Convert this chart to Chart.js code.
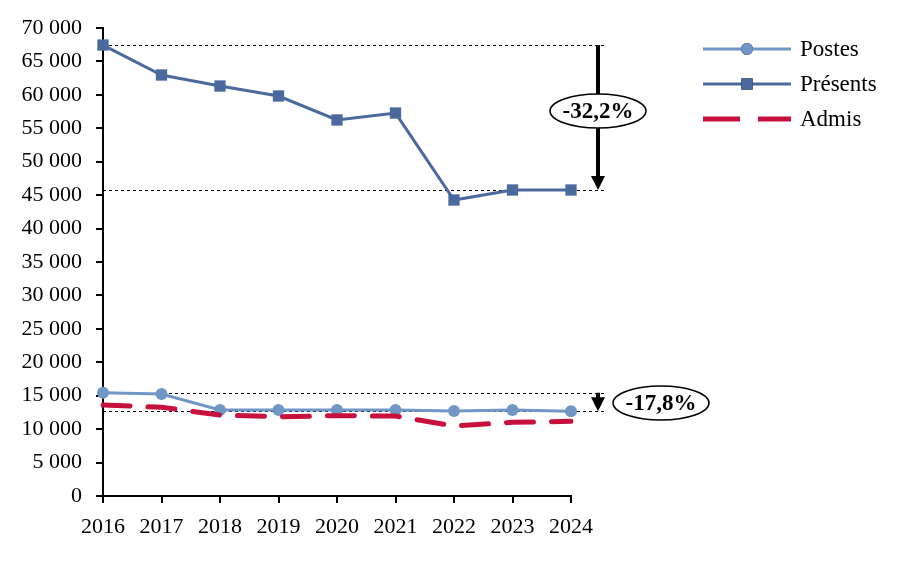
<!DOCTYPE html>
<html>
<head>
<meta charset="utf-8">
<script src="https://cdn.jsdelivr.net/npm/chart.js@4.4.1/dist/chart.umd.min.js"></script>
<style>
  html, body { margin: 0; padding: 0; background: #fff; }
  #wrap { width: 900px; height: 563px; }
</style>
</head>
<body>
<div id="wrap"><canvas id="chart"></canvas></div>
<script>
// data
const years = ['2016', '2017', '2018', '2019', '2020', '2021', '2022', '2023', '2024']
const postes = [15450, 15250, 12860, 12860, 12860, 12860, 12710, 12860, 12680]
const presents = [67450, 62970, 61320, 59830, 56240, 57280, 44270, 45770, 45770]
const admis = [13610, 13260, 12110, 11860, 12010, 11960, 10470, 11020, 11170]
const seriesNames = ['Postes', 'Présents', 'Admis']
const yMax = 70000
const yStep = 5000
const changeLabels = ['-32,2%', '-17,8%']

const FONT = '"Liberation Serif", "Times New Roman", serif'

// dashed guides, arrows and the percentage ellipses
const changePlugin = {
  id: 'changes',
  beforeDatasetsDraw(chart) {
    const ctx = chart.ctx
    const y = chart.scales.y
    const area = chart.chartArea
    const endX = area.right + 34
    const vals = [presents[0], presents[presents.length - 1], postes[0], postes[postes.length - 1]]
    ctx.save()
    ctx.strokeStyle = '#000'
    ctx.lineWidth = 1
    ctx.setLineDash([3, 3])
    vals.forEach(v => {
      const py = Math.round(y.getPixelForValue(v)) + 0.5
      ctx.beginPath()
      ctx.moveTo(area.left, py)
      ctx.lineTo(endX, py)
      ctx.stroke()
    })
    ctx.restore()
  },
  afterDraw(chart) {
    const ctx = chart.ctx
    const y = chart.scales.y
    const area = chart.chartArea
    const ax = area.right + 27

    function arrow(from, to) {
      const y1 = y.getPixelForValue(from)
      const y2 = y.getPixelForValue(to)
      const head = 14
      ctx.save()
      ctx.strokeStyle = '#000'
      ctx.fillStyle = '#000'
      ctx.lineWidth = 4
      ctx.beginPath()
      ctx.moveTo(ax, y1)
      ctx.lineTo(ax, y2 - head + 1)
      ctx.stroke()
      ctx.beginPath()
      ctx.moveTo(ax - 7, y2 - head)
      ctx.lineTo(ax + 7, y2 - head)
      ctx.lineTo(ax, y2)
      ctx.closePath()
      ctx.fill()
      ctx.restore()
    }

    function ellipse(cx, cy, text) {
      ctx.save()
      ctx.beginPath()
      ctx.ellipse(cx, cy, 48, 17, 0, 0, Math.PI * 2)
      ctx.fillStyle = '#fff'
      ctx.fill()
      ctx.lineWidth = 1.5
      ctx.strokeStyle = '#000'
      ctx.stroke()
      ctx.fillStyle = '#000'
      ctx.font = 'bold 23px ' + FONT
      ctx.textAlign = 'center'
      ctx.textBaseline = 'middle'
      ctx.fillText(text, cx, cy + 1)
      ctx.restore()
    }

    arrow(presents[0], presents[presents.length - 1])
    const topY = y.getPixelForValue(presents[0])
    ellipse(ax, topY + 66, changeLabels[0])

    arrow(postes[0], postes[postes.length - 1])
    const midY = (y.getPixelForValue(postes[0]) + y.getPixelForValue(postes[postes.length - 1])) / 2
    ellipse(ax + 63, midY + 1, changeLabels[1])

    // legend, in the order of seriesNames
    const lx = area.right + 132
    const lw = 88
    seriesNames.forEach((name, i) => {
      const ds = chart.data.datasets.find(d => d.label === name)
      const ly = area.top + 21 + i * 35
      ctx.save()
      ctx.strokeStyle = ds.borderColor
      ctx.lineWidth = ds.borderWidth
      if (ds.borderDash && ds.borderDash.length) {
        ctx.setLineDash([37, 18])
        ctx.lineCap = 'butt'
      }
      ctx.beginPath()
      ctx.moveTo(lx, ly)
      ctx.lineTo(lx + lw, ly)
      ctx.stroke()
      ctx.setLineDash([])
      if (ds.pointRadius > 0) {
        Chart.helpers.drawPoint(ctx, {
          pointStyle: ds.pointStyle,
          radius: ds.pointRadius,
          borderWidth: 0
        }, lx + lw / 2, ly)
        ctx.fillStyle = ds.pointBackgroundColor
        ctx.fill()
      }
      ctx.fillStyle = '#000'
      ctx.font = '23px ' + FONT
      ctx.textAlign = 'left'
      ctx.textBaseline = 'middle'
      ctx.fillText(ds.label, lx + lw + 9, ly + 1)
      ctx.restore()
    })
  }
}

const ctx = document.getElementById('chart').getContext('2d')
new Chart(ctx, {
  type: 'line',
  data: {
    labels: years,
    datasets: [{
      label: seriesNames[2],
      data: admis,
      borderColor: '#C8103F',
      backgroundColor: '#C8103F',
      borderWidth: 5,
      borderDash: [27, 18],
      borderCapStyle: 'round',
      pointRadius: 0,
      tension: 0
    }, {
      label: seriesNames[1],
      data: presents,
      borderColor: '#4A6A9E',
      backgroundColor: '#4A6A9E',
      pointBackgroundColor: '#4A6A9E',
      pointBorderWidth: 0,
      borderWidth: 3,
      pointStyle: 'rect',
      pointRadius: 8,
      tension: 0
    }, {
      label: seriesNames[0],
      data: postes,
      borderColor: '#7096C6',
      backgroundColor: '#7096C6',
      pointBackgroundColor: '#7096C6',
      pointBorderWidth: 0,
      borderWidth: 3,
      pointStyle: 'circle',
      pointRadius: 6,
      tension: 0
    }]
  },
  options: {
    responsive: true,
    maintainAspectRatio: false,
    animation: false,
    layout: { padding: { top: 28, right: 329, left: 0, bottom: 0 } },
    plugins: {
      legend: { display: false },
      tooltip: { enabled: false }
    },
    scales: {
      x: {
        offset: false,
        grid: { drawOnChartArea: false, color: '#000', tickLength: 7, lineWidth: 2, offset: false },
        border: { color: '#000', width: 2 },
        ticks: { color: '#000', font: { family: FONT, size: 22 }, padding: 11, maxRotation: 0, autoSkip: false },
        afterFit(scale) { scale.height = 67 }
      },
      y: {
        min: 0,
        max: yMax,
        grid: { drawOnChartArea: false, color: '#000', tickLength: 7, lineWidth: 2 },
        border: { color: '#000', width: 2 },
        ticks: {
          stepSize: yStep,
          color: '#000',
          padding: 14,
          font: { family: FONT, size: 22 },
          callback: v => String(v).replace(/\B(?=(\d{3})+(?!\d))/g, ' ')
        },
        afterFit(scale) { scale.width = 103 }
      }
    }
  },
  plugins: [changePlugin]
})
</script>
</body>
</html>
